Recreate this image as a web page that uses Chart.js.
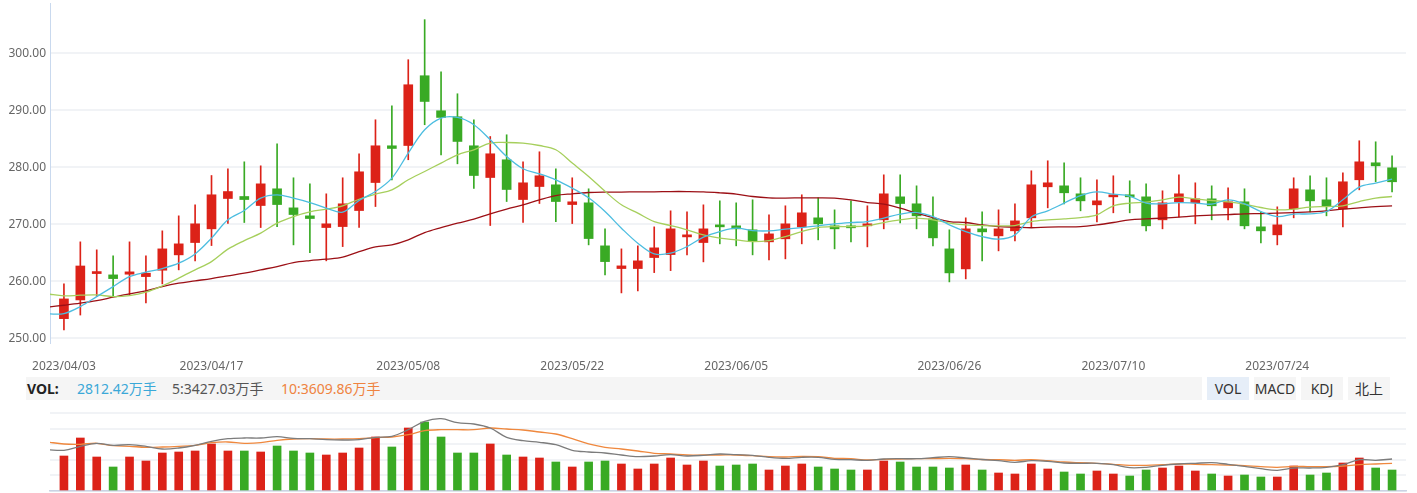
<!DOCTYPE html>
<html>
<head>
<meta charset="utf-8">
<script src="https://cdn.jsdelivr.net/npm/chart.js@4.4.0/dist/chart.umd.min.js"></script>
<style>
  body { margin: 0; background: #fff; font-family: 'Noto Sans', 'Noto Sans CJK SC', sans-serif; }
  #wrap { position: relative; width: 1417px; height: 493px; overflow: hidden; }
  #kline { position: absolute; left: 0; top: 0; }
  #vol { position: absolute; left: 0; top: 400px; }
  .volbar { position: absolute; left: 26px; top: 377px; width: 1176px; height: 23px; background: #f5f5f5; }
  .volbar span { position: absolute; top: 0; line-height: 23px; font-size: 14px; white-space: nowrap; }
  .btn { position: absolute; top: 377px; width: 42px; height: 23px; line-height: 23px; text-align: center;
         font-size: 14px; color: #333; background: #f5f5f5; }
  .btn.on { background: #e6eef8; }
</style>
</head>
<body>
<div id="wrap">
  <canvas id="kline" width="1417" height="376"></canvas>
  <div class="volbar">
    <span style="left:1px;font-weight:bold;color:#222">VOL:</span>
    <span id="vNow" style="left:51px;color:#3aa8d8"></span>
    <span id="vMa5" style="left:146px;color:#555"></span>
    <span id="vMa10" style="left:255px;color:#ef8340"></span>
  </div>
  <div class="btn on" style="left:1207px">VOL</div>
  <div class="btn" style="left:1254px">MACD</div>
  <div class="btn" style="left:1301px">KDJ</div>
  <div class="btn" style="left:1348px">北上</div>
  <canvas id="vol" width="1417" height="93"></canvas>
</div>
<script>
// daily candles, 2023/04/03 .. 2023/08/02 (82 trading days)
const opens = [253.47,256.75,261.37,261.14,261.26,260.84,261.96,264.65,266.81,269.21,
  274.53,274.88,273.3,276.23,272.89,271.49,269.44,269.61,272.42,277.33,
  283.77,283.82,296.05,289.91,288.86,283.77,278.21,281.32,274.35,276.63,
  276.93,273.47,273.77,266.23,262.25,262.25,264.18,264.7,267.8,266.81,
  269.91,269.74,269.04,266.93,267.46,269.56,271.14,269.74,269.74,269.74,
  270.79,274.82,273.6,270.96,265.7,262.19,269.21,267.98,268.86,271.14,
  276.58,276.75,275.35,273.42,274.82,275.18,274.82,270.79,273.95,273.77,
  274.47,272.89,273.95,269.56,268.16,272.72,276.05,274.3,272.72,277.81,
  280.79,279.91];
const highs = [259.56,266.93,265.53,264.47,266.93,264.47,268.86,271.49,273.42,278.56,
  279.74,280.96,280.26,284.12,278.16,277.1,275.35,278.16,282.37,288.33,
  290.79,298.86,305.88,296.75,292.89,288.33,285.4,285.7,280.96,282.72,
  279.74,278.16,276.23,269.21,265.7,266.23,269.56,272.37,272.19,273.42,
  274.12,273.77,274.3,271.67,273.25,275.18,274.65,272.54,274.12,273.25,
  278.68,278.68,276.75,274.82,269.04,271.14,272.19,272.54,273.6,279.39,
  281.14,280.79,278.16,277.8,278.51,277.63,277.1,275.88,278.68,277.28,
  276.75,276.4,276.23,272.19,273.07,278.16,278.51,278.16,279.04,284.65,
  284.47,282.02];
const lows = [251.5,254.1,257.33,257.33,257.63,256.23,259.56,262.02,263.6,266.28,
  270.14,270.32,269.44,269.6,266.4,265.05,263.6,266.1,269.44,273.12,
  277.8,281.32,287.46,282.19,280.61,276.28,269.79,274.0,270.32,273.65,
  270.49,270.14,266.4,261.14,257.98,258.33,261.54,261.89,264.65,263.42,
  266.58,266.23,264.65,263.77,263.95,266.58,267.28,265.7,266.93,266.05,
  269.21,270.26,269.21,266.23,259.91,260.44,263.6,265.35,267.11,269.56,
  272.89,273.6,272.37,270.44,272.02,272.02,268.86,269.21,271.32,270.09,
  270.79,270.79,269.21,266.75,266.4,271.14,272.19,271.49,269.56,276.05,
  277.46,275.7];
const closes = [256.93,262.7,261.67,260.49,261.67,261.44,265.7,266.58,270.09,275.18,
  275.75,274.35,277.1,273.47,271.72,271.02,270.09,273.6,279.21,283.77,
  283.3,294.47,291.54,288.74,284.53,278.56,282.37,276.11,277.28,278.51,
  274.0,273.95,267.51,263.47,262.72,263.6,265.88,269.21,268.16,269.21,
  269.56,269.21,267.11,268.33,270.09,272.02,270.09,269.21,269.39,270.09,
  275.35,273.65,271.49,267.63,261.49,269.21,268.68,269.21,270.61,276.93,
  277.28,275.53,274.12,274.12,275.18,274.82,269.74,273.77,275.35,274.47,
  273.25,273.95,269.74,268.86,269.91,276.23,274.12,273.25,277.46,280.96,
  280.26,277.46];

// moving averages; first value is the day before 2023/04/03
const ma5 = [254.3,254.35,255.58,257.33,259.09,260.84,261.61,262.25,263.19,264.82,
  267.58,270.79,272.42,274.6,275.18,274.6,273.82,272.84,272.14,274.18,
  275.75,278.1,282.49,286.58,288.63,288.74,287.46,284.82,281.89,279.74,
  278.86,277.81,276.35,274.65,272.25,269.33,266.7,264.82,264.95,266.1,
  267.75,268.74,269.33,268.91,268.86,269.16,269.44,269.74,270.09,270.32,
  270.49,271.09,271.79,272.07,271.37,269.91,268.74,267.86,267.4,268.16,
  271.3,272.37,273.72,275.05,275.7,275.3,274.95,273.72,273.6,273.82,
  273.72,273.54,274.3,273.6,272.25,271.37,271.79,271.84,272.25,274.3,
  276.53,277.23,277.93];
const ma10 = [257.8,257.46,257.58,257.63,257.33,257.51,258.11,259.21,260.56,262.02,
  263.47,265.65,267.16,268.46,270.21,271.37,272.19,272.67,273.25,274.4,
  275.3,276.05,277.81,279.26,280.74,282.19,283.07,284.25,284.35,284.25,
  283.82,283.07,280.74,278.4,275.8,273.42,271.96,270.49,269.79,269.04,
  268.16,267.58,267.28,266.98,267.16,267.86,268.74,269.44,269.61,269.61,
  269.74,270.32,270.79,271.09,270.79,270.21,269.91,269.79,269.74,269.79,
  270.49,270.79,270.96,271.19,271.67,273.25,273.72,273.9,274.3,274.77,
  274.47,274.18,273.95,273.54,272.95,272.54,272.67,273.02,273.12,273.25,
  274.0,274.6,274.88];
const ma30 = [255.5,255.82,256.18,256.63,257.23,257.81,258.33,259.09,259.68,260.09,
  260.49,260.96,261.44,262.02,262.6,263.3,263.65,263.89,264.25,265.2,
  266.05,266.4,267.28,268.56,269.44,270.21,270.91,271.84,272.67,273.42,
  274.3,275.05,275.35,275.58,275.65,275.65,275.7,275.7,275.75,275.75,
  275.7,275.53,275.3,274.88,274.65,274.6,274.65,274.65,274.6,274.3,
  273.82,273.54,272.84,271.96,271.19,270.49,270.32,269.91,269.61,269.51,
  269.4,269.51,269.56,269.61,269.91,270.32,270.79,270.96,271.09,271.26,
  271.49,271.61,271.72,271.84,271.89,271.96,272.07,272.19,272.37,272.67,
  272.89,273.12,273.25];

// volume, 万手
const volumes = [4690,7102,4556,3216,4556,4020,5092,5226,5360,6298,
  5360,5360,5226,6030,5360,5092,4824,5092,5762,7236,
  5896,8442,9246,7236,5092,5092,6298,4824,4556,4422,
  3886,3216,3886,4020,3618,2948,3618,4422,3484,4020,
  3350,3484,3618,2814,3350,3618,3216,2948,2814,2814,
  4020,3886,3216,3216,3082,3484,2814,2412,2278,3618,
  2948,2546,2278,2680,2278,2010,2814,3082,3350,2680,
  2278,2010,2144,1876,1876,3350,2144,2412,3752,4422,
  3082,2812];
const volMa5 = [5534,5454,5990,6392,6124,6204,5990,5628,5762,6124,
  6660,7008,7102,7102,7276,7062,7008,6874,6834,6874,
  7196,7330,8214,9340,9688,9152,8978,8442,7196,6740,
  6526,6204,5454,5226,5092,4824,4596,4690,4864,4690,
  4784,4958,4864,4784,4516,4382,4516,4516,4248,4194,
  4114,4288,4328,4328,4462,4596,4422,4221,4060,3846,
  4060,3980,3752,3712,3712,3524,3122,3176,3444,3618,
  3712,3792,3578,3310,2988,2774,3082,3082,3176,3524,
  4194,4114,4288];
const volMa10 = [6566,6298,6258,6392,6070,5990,5856,5896,5990,6124,
  6472,6566,6392,6472,6794,6968,7008,6968,6968,7008,
  7142,7236,7544,8080,8214,8214,8214,8442,8308,8174,
  7906,7638,7008,6298,5856,5628,5360,5052,4958,4824,
  4824,4824,4824,4730,4596,4556,4650,4596,4382,4328,
  4154,4248,4288,4328,4328,4382,4328,4221,4194,4114,
  4194,4060,3886,3792,3712,3578,3444,3444,3524,3618,
  3578,3524,3484,3390,3256,3176,3310,3256,3256,3350,
  3524,3618,3712];
const volHeader = ['2812.42万手', '5:3427.03万手', '10:3609.86万手'];

const tickIndex = [0, 9, 21, 31, 41, 54, 64, 74];
const tickLabels = ['2023/04/03','2023/04/17','2023/05/08','2023/05/22','2023/06/05','2023/06/26','2023/07/10','2023/07/24'];
const priceTicks = [250, 260, 270, 280, 290, 300];
const volTicks = [0, 2090, 4180, 6270, 8360, 10450];

document.getElementById('vNow').textContent = volHeader[0];
document.getElementById('vMa5').textContent = volHeader[1];
document.getElementById('vMa10').textContent = volHeader[2];

Chart.defaults.font.family = "'Noto Sans', 'Noto Sans CJK SC', sans-serif";

const UP = '#dc2218', DOWN = '#39aa24';
const days = closes.map((c, i) => i);
const dirColor = days.map(i => closes[i] >= opens[i] ? UP : DOWN);
const lineSet = (arr, color) => ({
  type: 'line', data: arr.map((v, i) => ({ x: i - 1, y: v })),
  borderColor: color, borderWidth: 1.3, pointRadius: 0, tension: 0.35, order: 0
});
const xRange = { type: 'linear', min: -0.85, max: 81.85, offset: false };
// keep tick labels from pushing the plot area inwards
const noPad = s => { s.paddingTop = 0; s.paddingBottom = 0; s.paddingLeft = 0; s.paddingRight = 0; };

new Chart(document.getElementById('kline'), {
  type: 'bar',
  data: {
    datasets: [
      lineSet(ma5, '#4cbde0'),
      lineSet(ma10, '#a6cf5c'),
      lineSet(ma30, '#9c1016'),
      { data: days.map(i => ({ x: i, y: [opens[i], closes[i]] })), backgroundColor: dirColor,
        barThickness: 9, minBarLength: 2, grouped: false, order: 2 },
      { data: days.map(i => ({ x: i, y: [lows[i], highs[i]] })), backgroundColor: dirColor,
        barThickness: 1, grouped: false, order: 3 }
    ]
  },
  options: {
    responsive: false, animation: false,
    layout: { autoPadding: false, padding: { top: 3, right: 11, left: 0, bottom: 0 } },
    plugins: { legend: { display: false }, tooltip: { enabled: false } },
    scales: {
      x: Object.assign({}, xRange, {
        grid: { display: false, drawTicks: false }, border: { display: false },
        afterBuildTicks: s => { s.ticks = tickIndex.map(v => ({ value: v })); },
        afterFit: s => { s.height = 33; noPad(s); },
        ticks: { autoSkip: false, maxRotation: 0, padding: 16, color: '#666', font: { size: 12 },
          callback: v => tickLabels[tickIndex.indexOf(v)] }
      }),
      y: {
        min: 249.2, max: 308.8, beginAtZero: false,
        grid: { color: '#f1f3f6', lineWidth: 2, drawTicks: false },
        border: { display: true, color: '#c9d9ee' },
        afterBuildTicks: s => { s.ticks = priceTicks.map(v => ({ value: v })); },
        afterFit: s => { s.width = 50; noPad(s); },
        ticks: { padding: 4, color: '#666', font: { size: 12 }, callback: v => v.toFixed(2) }
      }
    }
  }
});

new Chart(document.getElementById('vol'), {
  type: 'bar',
  data: {
    datasets: [
      lineSet(volMa5, '#7c7c7c'),
      lineSet(volMa10, '#ef883e'),
      { data: days.map(i => ({ x: i, y: volumes[i] })), backgroundColor: dirColor,
        barThickness: 8, grouped: false, order: 2 }
    ]
  },
  options: {
    responsive: false, animation: false,
    layout: { autoPadding: false, padding: { top: 13, right: 11, left: 0, bottom: 0 } },
    plugins: { legend: { display: false }, tooltip: { enabled: false } },
    scales: {
      x: Object.assign({}, xRange, {
        grid: { display: false, drawTicks: false },
        border: { display: true, color: '#cbd3e4', width: 1.5 },
        ticks: { display: false },
        afterFit: s => { s.height = 2; noPad(s); }
      }),
      y: {
        min: 0, max: 10450,
        grid: { color: '#f1f3f6', lineWidth: 2, drawTicks: false },
        border: { display: false },
        ticks: { display: false },
        afterBuildTicks: s => { s.ticks = volTicks.map(v => ({ value: v })); },
        afterFit: s => { s.width = 50; noPad(s); }
      }
    }
  }
});
</script>
</body>
</html>
